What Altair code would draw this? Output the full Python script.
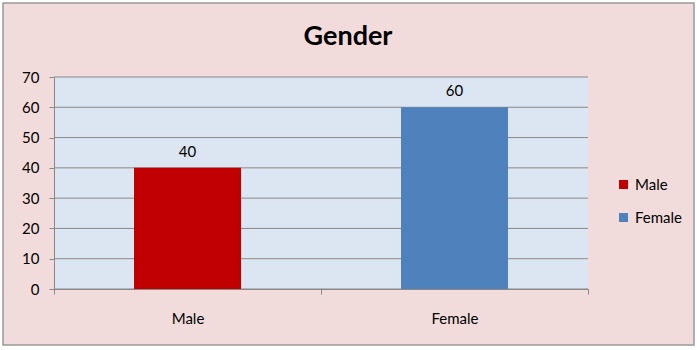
import altair as alt
import pandas as pd

title_text = "Gender"
categories = ["Male", "Female"]
counts = [40, 60]
bar_colors = ["#c00000", "#4f81bd"]
y_ticks = [0, 10, 20, 30, 40, 50, 60, 70]

df = pd.DataFrame({"Gender": categories, "Count": counts})
grid_df = pd.DataFrame({"Count": y_ticks})
title_df = pd.DataFrame({"t": [title_text]})

FONT = "Lato"
W, H = 534, 212

frame = alt.Chart(title_df).mark_rect(
    fill="#f2dcdb", stroke="#999999", strokeWidth=1.5
).encode(
    x=alt.value(-51), x2=alt.value(640), y=alt.value(-74), y2=alt.value(268)
)

plotbg = alt.Chart(title_df).mark_rect(fill="#dce6f2").encode(
    x=alt.value(0), x2=alt.value(W), y=alt.value(0), y2=alt.value(H)
)

title = alt.Chart(title_df).mark_text(
    fontSize=27, font=FONT, fontWeight="bold", color="#000000",
    baseline="alphabetic", align="center",
).encode(
    x=alt.value(W / 2 + 27), y=alt.value(-32), text="t:N"
)

yscale = alt.Scale(domain=[0, 70], nice=False)
yaxis = alt.Axis(
    title=None, values=y_ticks, grid=False,
    domainColor="#888888", tickColor="#888888", tickSize=5,
    labelFontSize=15, labelFont=FONT, labelColor="#000000", labelPadding=10,
    zindex=1,
)

gridlines = alt.Chart(grid_df).mark_rule(color="#888888", strokeWidth=1).encode(
    y=alt.Y("Count:Q", scale=yscale, axis=yaxis)
)

xenc = alt.X(
    "Gender:N",
    sort=categories,
    scale=alt.Scale(paddingInner=0, paddingOuter=0),
    axis=alt.Axis(
        title=None, labelAngle=0, tickBand="extent", domainColor="#888888",
        tickColor="#888888", tickSize=5, labelFontSize=15, labelFont=FONT,
        labelColor="#000000", labelPadding=17, grid=False, zindex=1,
    ),
)

bars = alt.Chart(df).mark_bar(size=107).encode(
    x=xenc,
    y=alt.Y("Count:Q", scale=yscale, axis=yaxis),
    color=alt.Color(
        "Gender:N",
        sort=categories,
        scale=alt.Scale(domain=categories, range=bar_colors),
        legend=alt.Legend(
            title=None, orient="none", legendX=562, legendY=100,
            symbolType="square", symbolSize=81, symbolStrokeWidth=0,
            labelFontSize=15, labelFont=FONT, labelColor="#000000",
            rowPadding=17, labelOffset=4,
        ),
    ),
)

labels = alt.Chart(df).mark_text(
    baseline="bottom", dy=-8, fontSize=15, font=FONT, color="#000000"
).encode(
    x=alt.X("Gender:N", sort=categories),
    y=alt.Y("Count:Q", scale=yscale, axis=yaxis),
    text="Count:Q",
)

chart = alt.layer(frame, plotbg, title, gridlines, bars, labels).properties(
    width=W,
    height=H,
    padding={"left": 54, "top": 77, "right": 109, "bottom": 61},
    autosize=alt.AutoSizeParams(type="none"),
    background="#ffffff",
).configure_view(stroke=None)

chart.save("out.html", embed_options={"renderer": "svg", "actions": False})
